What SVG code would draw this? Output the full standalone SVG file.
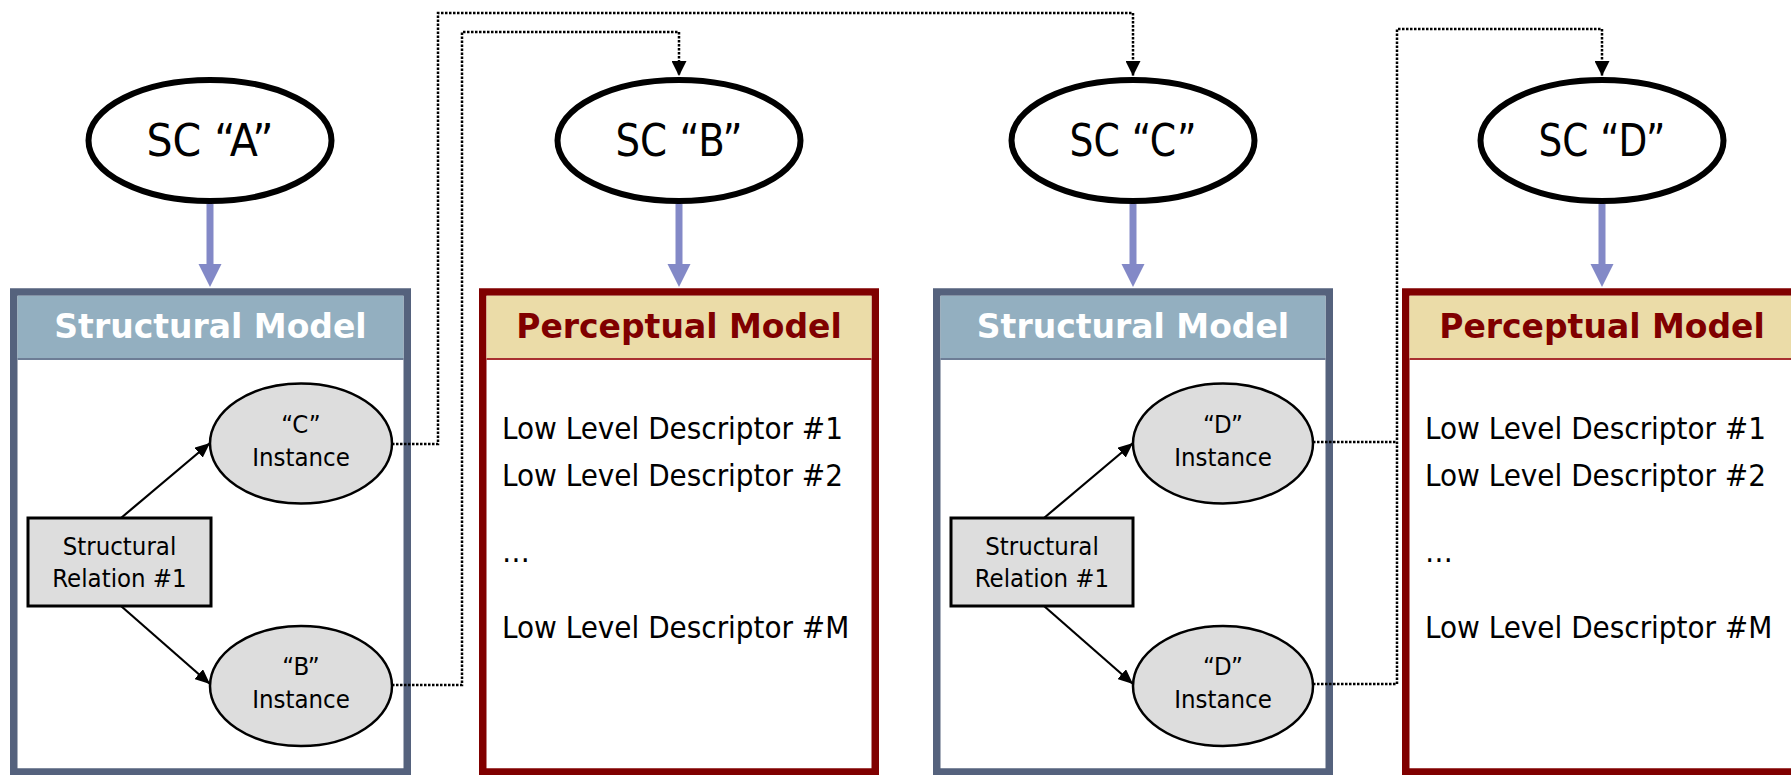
<svg xmlns="http://www.w3.org/2000/svg" width="1791" height="775" viewBox="0 0 1791 775">
  <style>
    .sc { fill: #ffffff; stroke: #000000; stroke-width: 6; }
    .sc-text { font-family: "DejaVu Sans Condensed", "DejaVu Sans", sans-serif; font-stretch: condensed; font-size: 44px; fill: #000000; text-anchor: middle; }
    .frame-s { fill: #ffffff; stroke: #55627d; stroke-width: 7.5; }
    .head-s { fill: #93afc0; }
    .sep-s { stroke: #6d7d96; stroke-width: 2; }
    .frame-p { fill: #ffffff; stroke: #800000; stroke-width: 7.5; }
    .head-p { fill: #ebdca8; }
    .sep-p { stroke: #a83030; stroke-width: 2; }
    .title { font-family: "DejaVu Sans", "Liberation Sans", sans-serif; font-weight: bold; font-size: 33px; text-anchor: middle; }
    .title-s { fill: #ffffff; }
    .title-p { fill: #800000; }
    .inst { fill: #dddddd; stroke: #000000; stroke-width: 2.5; }
    .rel { fill: #dddddd; stroke: #000000; stroke-width: 3; }
    .small { font-family: "DejaVu Sans Condensed", "DejaVu Sans", sans-serif; font-stretch: condensed; font-size: 25.5px; fill: #000000; text-anchor: middle; }
    .desc { font-family: "DejaVu Sans Condensed", "DejaVu Sans", sans-serif; font-stretch: condensed; font-size: 31px; fill: #000000; }
    .rel-arrow { fill: none; stroke: #000000; stroke-width: 2.2; marker-end: url(#solid-head); }
    .link { fill: none; stroke: #000000; stroke-width: 2.5; stroke-dasharray: 2.5 1.5; }
    .link-end { marker-end: url(#dot-head); }
    .flow { fill: #8389c7; }
  </style>
  <defs>
    <marker id="solid-head" markerUnits="userSpaceOnUse" markerWidth="15" markerHeight="13" refX="15" refY="6.5" orient="auto">
      <path d="M0,0 L15,6.5 L0,13 z" fill="#000000"/>
    </marker>
    <marker id="dot-head" markerUnits="userSpaceOnUse" markerWidth="15" markerHeight="15" refX="15" refY="7.5" orient="auto">
      <path d="M0,0 L15,7.5 L0,15 z" fill="#000000"/>
    </marker>
  </defs>

  <rect width="1791" height="775" fill="#ffffff"/>

  <!-- semantic concept ellipses -->
  <g id="sc-a">
    <ellipse class="sc" cx="210" cy="140.5" rx="121.5" ry="60.5"/>
    <text class="sc-text" x="210" y="156" textLength="127" lengthAdjust="spacingAndGlyphs">SC “A”</text>
  </g>
  <g id="sc-b">
    <ellipse class="sc" cx="679" cy="140.5" rx="121.5" ry="60.5"/>
    <text class="sc-text" x="679" y="156" textLength="127" lengthAdjust="spacingAndGlyphs">SC “B”</text>
  </g>
  <g id="sc-c">
    <ellipse class="sc" cx="1133" cy="140.5" rx="121.5" ry="60.5"/>
    <text class="sc-text" x="1133" y="156" textLength="127" lengthAdjust="spacingAndGlyphs">SC “C”</text>
  </g>
  <g id="sc-d">
    <ellipse class="sc" cx="1602" cy="140.5" rx="121.5" ry="60.5"/>
    <text class="sc-text" x="1602" y="156" textLength="127" lengthAdjust="spacingAndGlyphs">SC “D”</text>
  </g>

  <!-- structural model of SC A -->
  <g id="structural-a">
    <rect class="frame-s" x="13.75" y="292" width="393.5" height="480"/>
    <rect class="head-s" x="17.5" y="295.75" width="386" height="63.25"/>
    <line class="sep-s" x1="17.5" y1="359" x2="403.5" y2="359"/>
    <text class="title title-s" x="210.5" y="338">Structural Model</text>
  </g>
  <g id="relation-a">
    <rect class="rel" x="28" y="518" width="183" height="88"/>
    <text class="small" x="119.5" y="555">Structural</text>
    <text class="small" x="119.5" y="587">Relation #1</text>
  </g>
  <g id="instance-c">
    <ellipse class="inst" cx="301" cy="443.5" rx="91" ry="60"/>
    <text class="small" x="301" y="433">“C”</text>
    <text class="small" x="301" y="466">Instance</text>
  </g>
  <g id="instance-b">
    <ellipse class="inst" cx="301" cy="686" rx="91" ry="60"/>
    <text class="small" x="301" y="675">“B”</text>
    <text class="small" x="301" y="708">Instance</text>
  </g>

  <!-- perceptual model of SC B -->
  <g id="perceptual-b">
    <rect class="frame-p" x="482.75" y="292" width="392.5" height="480"/>
    <rect class="head-p" x="486.5" y="295.75" width="385" height="63.25"/>
    <line class="sep-p" x1="486.5" y1="359" x2="871.5" y2="359"/>
    <text class="title title-p" x="679" y="338">Perceptual Model</text>
    <text class="desc" x="502" y="439">Low Level Descriptor #1</text>
    <text class="desc" x="502" y="486">Low Level Descriptor #2</text>
    <text class="desc" x="502" y="562">…</text>
    <text class="desc" x="502" y="638">Low Level Descriptor #M</text>
  </g>

  <!-- structural model of SC C -->
  <g id="structural-c">
    <rect class="frame-s" x="936.75" y="292" width="392.5" height="480"/>
    <rect class="head-s" x="940.5" y="295.75" width="385" height="63.25"/>
    <line class="sep-s" x1="940.5" y1="359" x2="1325.5" y2="359"/>
    <text class="title title-s" x="1133" y="338">Structural Model</text>
  </g>
  <g id="relation-c">
    <rect class="rel" x="951" y="518" width="182" height="88"/>
    <text class="small" x="1042" y="555">Structural</text>
    <text class="small" x="1042" y="587">Relation #1</text>
  </g>
  <g id="instance-d1">
    <ellipse class="inst" cx="1223" cy="443.5" rx="90" ry="60"/>
    <text class="small" x="1223" y="433">“D”</text>
    <text class="small" x="1223" y="466">Instance</text>
  </g>
  <g id="instance-d2">
    <ellipse class="inst" cx="1223" cy="686" rx="90" ry="60"/>
    <text class="small" x="1223" y="675">“D”</text>
    <text class="small" x="1223" y="708">Instance</text>
  </g>

  <!-- perceptual model of SC D (runs past the right edge) -->
  <g id="perceptual-d">
    <rect class="frame-p" x="1405.75" y="292" width="392.5" height="480"/>
    <rect class="head-p" x="1409.5" y="295.75" width="385" height="63.25"/>
    <line class="sep-p" x1="1409.5" y1="359" x2="1794.5" y2="359"/>
    <text class="title title-p" x="1602" y="338">Perceptual Model</text>
    <text class="desc" x="1425" y="439">Low Level Descriptor #1</text>
    <text class="desc" x="1425" y="486">Low Level Descriptor #2</text>
    <text class="desc" x="1425" y="562">…</text>
    <text class="desc" x="1425" y="638">Low Level Descriptor #M</text>
  </g>

  <!-- connectors -->
  <g id="connectors">
    <!-- concept to model -->
    <path class="flow" d="M206.5,204 H213.5 V264 H221.5 L210,287 L198.5,264 H206.5 Z"/>
    <path class="flow" d="M675.5,204 H682.5 V264 H690.5 L679,287 L667.5,264 H675.5 Z"/>
    <path class="flow" d="M1129.5,204 H1136.5 V264 H1144.5 L1133,287 L1121.5,264 H1129.5 Z"/>
    <path class="flow" d="M1598.5,204 H1605.5 V264 H1613.5 L1602,287 L1590.5,264 H1598.5 Z"/>

    <!-- relation to instances -->
    <line class="rel-arrow" x1="121" y1="518" x2="210" y2="443"/>
    <line class="rel-arrow" x1="121" y1="606" x2="210" y2="684"/>
    <line class="rel-arrow" x1="1044" y1="518" x2="1133" y2="443"/>
    <line class="rel-arrow" x1="1044" y1="606" x2="1133" y2="684"/>

    <!-- instances to the concepts they refer to -->
    <path class="link link-end" d="M392,444 H438 V13 H1133 V76"/>
    <path class="link link-end" d="M392,685 H462 V32 H679 V76"/>
    <path class="link" d="M1313,442 H1397"/>
    <path class="link link-end" d="M1313,684 H1397 V29 H1602 V76"/>
  </g>
</svg>
